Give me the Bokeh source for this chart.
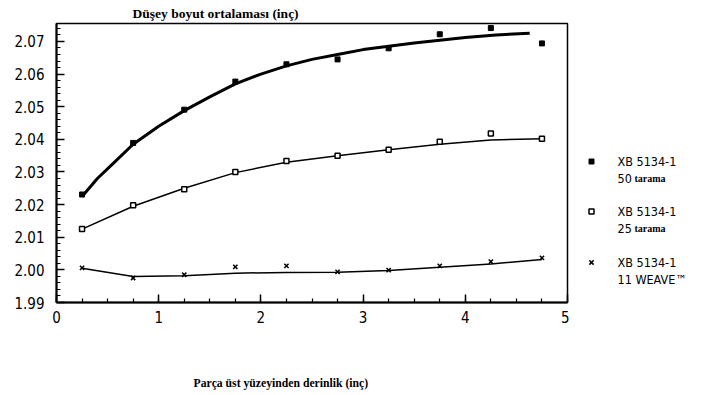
from bokeh.plotting import figure
from bokeh.layouts import row
from bokeh.models import Range1d, FixedTicker, NumeralTickFormatter, Title
from bokeh.core.properties import value
from bokeh.embed import file_html
from bokeh.resources import INLINE

# ---- data ----
depth = [0.25, 0.75, 1.25, 1.75, 2.25, 2.75, 3.25, 3.75, 4.25, 4.75]
s50 = [2.0231, 2.0389, 2.0491, 2.0577, 2.0630, 2.0645, 2.0679, 2.0722, 2.0741, 2.0694]
s25 = [2.0125, 2.0198, 2.0247, 2.0300, 2.0334, 2.0350, 2.0368, 2.0393, 2.0418, 2.0402]
s11 = [2.0006, 1.9975, 1.9985, 2.0009, 2.0012, 1.9994, 1.9999, 2.0012, 2.0025, 2.0037]

# fitted curves as drawn in the picture
fit50_x = [0.25, 0.4, 0.55, 0.75, 1.0, 1.25, 1.5, 1.75, 2.0, 2.25, 2.5, 2.75, 3.0, 3.5, 4.0, 4.3, 4.63]
fit50_y = [2.0225, 2.0280, 2.0325, 2.0385, 2.0440, 2.0488, 2.0530, 2.0570, 2.0600, 2.0625,
           2.0645, 2.0660, 2.0675, 2.0695, 2.0712, 2.0720, 2.0725]
fit25_x = [0.25, 0.75, 1.25, 1.75, 2.25, 2.75, 3.25, 3.75, 4.25, 4.75]
fit25_y = [2.0125, 2.0195, 2.0250, 2.0298, 2.0330, 2.0350, 2.0368, 2.0385, 2.0398, 2.0402]
fit11_x = [0.25, 0.75, 1.25, 1.75, 2.25, 2.75, 3.25, 3.75, 4.25, 4.75]
fit11_y = [2.0005, 1.9980, 1.9982, 1.9990, 1.9992, 1.9993, 1.9998, 2.0008, 2.0018, 2.0032]

x_ticks = [0, 1, 2, 3, 4, 5]
y_ticks = [1.99, 2.00, 2.01, 2.02, 2.03, 2.04, 2.05, 2.06, 2.07]

title_text = "Düşey boyut ortalaması (inç)"
xlabel_text = "Parça üst yüzeyinden derinlik (inç)"
legend_main = ["XB 5134-1", "XB 5134-1", "XB 5134-1"]
legend_num = ["50", "25", "11 WEAVE™"]
legend_word = ["tarama", "tarama", ""]

SANS = '"DejaVu Sans Condensed", "Liberation Sans Narrow", sans-serif'
SERIF = '"Liberation Serif", serif'

H = 395
FRAME_TOP, FRAME_BOTTOM = 23, 302
p = figure(width=569, height=H, output_backend="svg", toolbar_location=None,
           x_range=Range1d(0, 5), y_range=Range1d(1.99, 2.0755),
           min_border_left=56, min_border_right=2, min_border_top=FRAME_TOP,
           min_border_bottom=H - FRAME_BOTTOM)
p.grid.visible = False
p.background_fill_color = "white"
p.border_fill_color = "white"
p.outline_line_color = "black"
p.outline_line_width = 1.5

for ax in (p.xaxis[0], p.yaxis[0]):
    ax.axis_line_width = 2
    ax.axis_line_color = "black"
    ax.major_tick_in = 8
    ax.major_tick_out = 0
    ax.minor_tick_in = 4
    ax.minor_tick_out = 0
    ax.major_tick_line_width = 1.5
    ax.minor_tick_line_width = 1.2
    ax.major_label_text_font = SANS
    ax.major_label_text_color = "black"

p.xaxis.ticker = FixedTicker(ticks=x_ticks, minor_ticks=[i * 0.25 for i in range(21)])
p.yaxis.ticker = FixedTicker(ticks=y_ticks, minor_ticks=[1.99 + i * 0.002 for i in range(44)])
p.yaxis.formatter = NumeralTickFormatter(format="0.00")
p.xaxis.major_label_text_font_size = "15px"
p.yaxis.major_label_text_font_size = "15px"
p.xaxis.major_label_standoff = 8
p.yaxis.major_label_standoff = 12

# title above
p.add_layout(Title(text=title_text, align="left", offset=76, standoff=5,
                   text_font=SERIF, text_font_style="bold", text_font_size="13.5px",
                   text_color="black"), "above")
# blank spacer, then the x-axis caption below
p.add_layout(Title(text=" ", standoff=36, text_font_size="10px"), "below")
p.add_layout(Title(text=xlabel_text, align="left", offset=137, standoff=0,
                   text_font=SERIF, text_font_style="bold", text_font_size="11.7px",
                   text_color="black"), "below")

# curves
p.line(fit50_x, fit50_y, line_color="black", line_width=3)
p.line(fit25_x, fit25_y, line_color="black", line_width=1.5)
p.line(fit11_x, fit11_y, line_color="black", line_width=1.5)

# markers
p.scatter(depth, s50, marker="square", size=5, fill_color="black", line_color="black")
p.scatter(depth, s25, marker="square", size=5, fill_color="white", line_color="black", line_width=1.5)
p.scatter(depth, s11, marker="x", size=6, line_color="black", line_width=1.5)

# ---- legend panel (pixel-space figure to the right; its frame aligns with the main frame) ----
LW = 702 - 569
lg = figure(width=LW, height=H, output_backend="svg", toolbar_location=None,
            x_range=Range1d(0, LW), y_range=Range1d(FRAME_BOTTOM, FRAME_TOP),
            min_border_left=0, min_border_right=0, min_border_top=FRAME_TOP,
            min_border_bottom=H - FRAME_BOTTOM, outline_line_color=None)
lg.axis.visible = False
lg.grid.visible = False
row_y = [161, 211, 262]          # window rows of the legend entries
mk_x = [591 - 569] * 3
tx_x = [617 - 569] * 3
lg.scatter(mk_x[0:1], row_y[0:1], marker="square", size=5, fill_color="black", line_color="black")
lg.scatter(mk_x[1:2], row_y[1:2], marker="square", size=5, fill_color="white",
           line_color="black", line_width=1.5)
lg.scatter(mk_x[2:3], row_y[2:3], marker="x", size=6, line_color="black", line_width=1.5)
lg.text(tx_x, row_y, text=legend_main, text_font=value(SANS), text_font_size="12.5px",
        text_baseline="middle", text_color="black")
sub_y = [v + 17 for v in row_y]
lg.text(tx_x, sub_y, text=legend_num, text_font=value(SANS), text_font_size="12.5px",
        text_baseline="middle", text_color="black")
word_x = [v + 17 for v in tx_x[:2]]
lg.text(word_x, sub_y[:2], text=legend_word[:2], text_font=value(SERIF), text_font_style="bold",
        text_font_size="10px", text_baseline="middle", text_color="black")

open("out.html", "w").write(file_html(row(p, lg), INLINE))
